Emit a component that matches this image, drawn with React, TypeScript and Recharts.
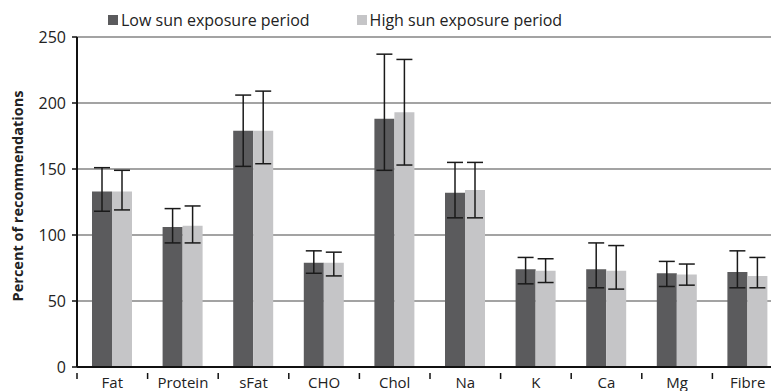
import { BarChart, Bar, XAxis, YAxis, CartesianGrid, ErrorBar, Legend } from 'recharts';

const categories = ['Fat', 'Protein', 'sFat', 'CHO', 'Chol', 'Na', 'K', 'Ca', 'Mg', 'Fibre'];
const lowValues = [133, 106, 179, 79, 188, 132, 74, 74, 71, 72];
const lowErrDown = [15, 12, 27, 8, 39, 19, 11, 14, 10, 12];
const lowErrUp = [18, 14, 27, 9, 49, 23, 9, 20, 9, 16];
const highValues = [133, 107, 179, 79, 193, 134, 73, 73, 70, 69];
const highErrDown = [14, 13, 25, 10, 40, 21, 9, 14, 8, 9];
const highErrUp = [16, 15, 30, 8, 40, 21, 9, 19, 8, 14];
const yTicks = [0, 50, 100, 150, 200, 250];
const seriesNames = ['Low sun exposure period', 'High sun exposure period'];

const DARK = '#5b5b5d';
const LIGHT = '#c5c5c7';
const FONT = '"Open Sans", sans-serif';

const CHART_W = 800;
const CHART_H = 391;
const MARGIN = { top: 37, right: 17, left: 0, bottom: 0 };
const Y_AXIS_W = 77;
const BAND = (CHART_W - MARGIN.left - MARGIN.right - Y_AXIS_W) / categories.length;

const data = categories.map((name, i) => ({
	name,
	low: lowValues[i],
	lowErr: [lowErrDown[i], lowErrUp[i]],
	high: highValues[i],
	highErr: [highErrDown[i], highErrUp[i]],
}));

const XTick = (props: any) => {
	const { x, y, payload } = props;
	return (
		<g>
			<line x1={x - BAND / 2} x2={x - BAND / 2} y1={y - 2} y2={y + 4} stroke="#111" strokeWidth={1.5} />
			<text x={x} y={y + 13} textAnchor="middle" fontSize={15} fontFamily={FONT} fill="#222">
				{payload.value}
			</text>
		</g>
	);
};

const YLabel = (props: any) => {
	const { viewBox } = props;
	const cx = viewBox.x + 17;
	const cy = viewBox.y + viewBox.height / 2 - 6;
	return (
		<text
			x={cx}
			y={cy}
			transform={`rotate(-90, ${cx}, ${cy})`}
			textAnchor="middle"
			dominantBaseline="central"
			fontSize={14.5}
			fontWeight="bold"
			fontFamily={FONT}
			fill="#222">
			Percent of recommendations
		</text>
	);
};

const LegendContent = () => (
	<div style={{ display: 'flex', fontFamily: FONT, fontSize: 16, color: '#222' }}>
		{seriesNames.map((name, i) => (
			<div key={name} style={{ display: 'flex', alignItems: 'center', marginRight: 47 }}>
				<span
					style={{
						display: 'inline-block',
						width: 10,
						height: 10,
						background: i === 0 ? DARK : LIGHT,
						marginRight: 3,
					}}
				/>
				<span>{name}</span>
			</div>
		))}
	</div>
);

export default function App() {
	return (
		<div style={{ position: 'absolute', left: 0, top: 0, width: 771, height: 391, overflow: 'hidden', background: '#fff' }}>
			<BarChart width={CHART_W} height={CHART_H} data={data} margin={MARGIN} barGap={0} barSize={20}>
				<CartesianGrid vertical={false} stroke="#a3a3a3" strokeWidth={2} />
				<XAxis
					dataKey="name"
					axisLine={{ stroke: '#111', strokeWidth: 2 }}
					tickLine={false}
					tick={<XTick />}
					height={24}
					interval={0}
				/>
				<YAxis
					domain={[0, 250]}
					ticks={yTicks}
					width={Y_AXIS_W}
					axisLine={{ stroke: '#111', strokeWidth: 2 }}
					tickLine={{ stroke: '#111', strokeWidth: 1.5 }}
					tickSize={5}
					tickMargin={6}
					tick={{ fontSize: 16, fontFamily: FONT, fill: '#222' }}
					label={{ content: <YLabel /> }}
				/>
				<Legend
					verticalAlign="middle"
					align="center"
					layout="horizontal"
					content={<LegendContent />}
					wrapperStyle={{ top: 9, left: 108, width: 'auto' }}
				/>
				<Bar dataKey="low" fill={DARK} isAnimationActive={false}>
					<ErrorBar dataKey="lowErr" width={8} stroke="#1a1a1a" strokeWidth={1.5} />
				</Bar>
				<Bar dataKey="high" fill={LIGHT} isAnimationActive={false}>
					<ErrorBar dataKey="highErr" width={8} stroke="#1a1a1a" strokeWidth={1.5} />
				</Bar>
			</BarChart>
		</div>
	);
}
